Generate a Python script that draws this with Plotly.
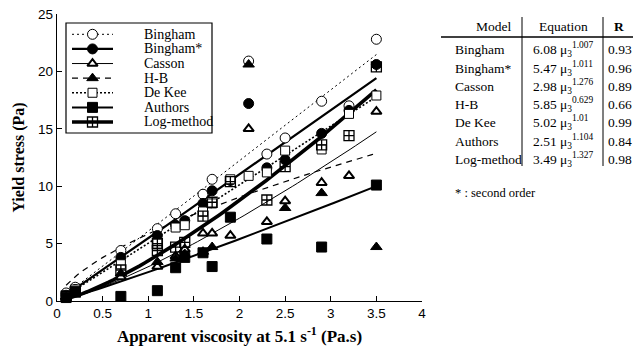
import numpy as np
import plotly.graph_objects as go

# ---------------- data ----------------
models = ["Bingham", "Bingham*", "Casson", "H-B", "De Kee", "Authors", "Log-method"]
eq_coef = ["6.08", "5.47", "2.98", "5.85", "5.02", "2.51", "3.49"]
eq_exp = ["1.007", "1.011", "1.276", "0.629", "1.01", "1.104", "1.327"]
r_values = ["0.93", "0.96", "0.89", "0.66", "0.99", "0.84", "0.98"]

x_bingham = [0.1, 0.2, 0.7, 1.1, 1.3, 1.6, 1.7, 2.1, 2.3, 2.5, 2.9, 3.2, 3.5]
y_bingham = [0.7, 1.2, 4.4, 6.3, 7.6, 9.3, 10.6, 20.9, 12.8, 14.2, 17.4, 17.0, 22.8]

x_bingham2 = [0.1, 0.2, 0.7, 1.1, 1.3, 1.4, 1.6, 1.7, 1.9, 2.1, 2.3, 2.5, 2.9, 3.2, 3.5]
y_bingham2 = [0.5, 1.0, 3.8, 5.7, 6.6, 7.0, 8.5, 9.6, 10.5, 17.2, 11.6, 12.3, 14.6, 16.6, 20.6]

x_casson = [0.1, 0.2, 0.7, 1.1, 1.3, 1.4, 1.6, 1.7, 1.9, 2.1, 2.3, 2.5, 2.9, 3.2, 3.5]
y_casson = [0.3, 0.6, 2.1, 3.0, 3.9, 4.5, 5.9, 5.9, 5.7, 15.0, 6.9, 8.7, 10.3, 10.9, 16.5]

x_hb = [0.1, 0.2, 0.7, 1.1, 1.3, 1.4, 1.6, 1.7, 2.1, 2.5, 2.9, 3.5]
y_hb = [0.4, 0.9, 2.4, 3.4, 3.7, 4.1, 4.3, 4.7, 20.6, 8.1, 9.4, 4.7]

x_dekee = [0.1, 0.2, 0.7, 1.1, 1.3, 1.4, 1.6, 1.7, 1.9, 2.1, 2.3, 2.5, 2.9, 3.2, 3.5]
y_dekee = [0.5, 1.0, 3.2, 5.0, 6.4, 6.6, 7.8, 8.5, 10.6, 10.9, 11.2, 13.1, 13.2, 16.3, 17.9]

x_authors = [0.1, 0.2, 0.7, 1.1, 1.3, 1.4, 1.6, 1.7, 1.9, 2.3, 2.9, 3.5]
y_authors = [0.3, 0.8, 0.4, 0.9, 2.9, 3.8, 4.2, 3.0, 7.3, 5.4, 4.7, 10.1]

x_log = [0.1, 0.2, 0.7, 1.1, 1.1, 1.3, 1.4, 1.6, 1.7, 1.9, 2.3, 2.5, 2.9, 3.2, 3.5]
y_log = [0.4, 0.8, 2.7, 4.4, 5.0, 4.7, 5.1, 7.4, 8.6, 10.4, 8.8, 11.7, 13.6, 14.4, 20.4]

fit_range = [0.1, 3.5]
x_ticks = [0, 0.5, 1, 1.5, 2, 2.5, 3, 3.5, 4]
y_ticks = [0, 5, 10, 15, 20, 25]

# ---------------- styles ----------------
SERIF = "Liberation Serif, Times New Roman, serif"
SANS = "Liberation Sans, Arial, sans-serif"
data_sets = [
    (x_bingham, y_bingham), (x_bingham2, y_bingham2), (x_casson, y_casson),
    (x_hb, y_hb), (x_dekee, y_dekee), (x_authors, y_authors), (x_log, y_log),
]
line_styles = [
    dict(color="black", width=1.0, dash="2px,3px"),
    dict(color="black", width=2.2),
    dict(color="black", width=1.0),
    dict(color="black", width=1.2, dash="6px,5px"),
    dict(color="black", width=1.6, dash="2px,2px"),
    dict(color="black", width=2.0),
    dict(color="black", width=3.6),
]
marker_styles = [
    dict(symbol="circle", size=10, color="white", line=dict(color="black", width=1)),
    dict(symbol="circle", size=10, color="black", line=dict(color="black", width=1)),
    dict(symbol="triangle-up", size=9, color="white", line=dict(color="black", width=2)),
    dict(symbol="triangle-up", size=10, color="black", line=dict(color="black", width=1)),
    dict(symbol="square", size=9, color="white", line=dict(color="black", width=1)),
    dict(symbol="square", size=10, color="black", line=dict(color="black", width=1)),
    dict(symbol="square-cross-open", size=10, color="black", line=dict(color="black", width=1.3)),
]

W, H = 638, 350
ML, MR, MT, MB = 57, 216, 14, 49
PW, PH = W - ML - MR, H - MT - MB


def px(x):
    return (x - ML) / PW


def py(y):
    return (H - MB - y) / PH


fig = go.Figure()

# fit lines from the table equations
xf = np.linspace(fit_range[0], fit_range[1], 60)
for i, m in enumerate(models):
    a, b = float(eq_coef[i]), float(eq_exp[i])
    fig.add_trace(go.Scatter(x=xf, y=a * xf ** b, mode="lines", line=line_styles[i],
                             showlegend=False, hoverinfo="skip"))

# data points
for i, m in enumerate(models):
    xs, ys = data_sets[i]
    fig.add_trace(go.Scatter(x=xs, y=ys, mode="markers", marker=marker_styles[i],
                             name=m, showlegend=False, cliponaxis=False))

# custom legend on its own small axes
rows = list(range(1, len(models) + 1))
for i, m in enumerate(models):
    fig.add_trace(go.Scatter(x=[0, 1], y=[rows[i], rows[i]], mode="lines", line=line_styles[i],
                             xaxis="x2", yaxis="y2", showlegend=False, hoverinfo="skip"))
    fig.add_trace(go.Scatter(x=[0.5], y=[rows[i]], mode="markers", marker=marker_styles[i],
                             xaxis="x2", yaxis="y2", showlegend=False, hoverinfo="skip",
                             cliponaxis=False))

annotations = []
for i, m in enumerate(models):
    annotations.append(dict(x=px(142), y=rows[i], xref="paper", yref="y2", text=m,
                            showarrow=False, xanchor="left", yanchor="middle",
                            font=dict(family=SERIF, size=14, color="black")))

shapes = [
    dict(type="rect", xref="paper", yref="paper", x0=px(66), x1=px(212), y0=py(133), y1=py(23),
         line=dict(color="black", width=1.2), fillcolor="white", layer="below"),
]

# table
tfont = dict(family=SERIF, size=13.5, color="black")
annotations += [
    dict(x=px(493), y=py(27), text="Model", xref="paper", yref="paper", showarrow=False,
         xanchor="center", yanchor="middle", font=tfont),
    dict(x=px(563), y=py(27), text="Equation", xref="paper", yref="paper", showarrow=False,
         xanchor="center", yanchor="middle", font=tfont),
    dict(x=px(619), y=py(27), text="<b>R</b>", xref="paper", yref="paper", showarrow=False,
         xanchor="center", yanchor="middle", font=tfont),
]
for i, m in enumerate(models):
    yy = py(50 + i * 18.2)
    annotations.append(dict(x=px(453), y=yy, text=m, xref="paper", yref="paper", showarrow=False,
                            xanchor="left", yanchor="middle", font=tfont))
    annotations.append(dict(x=px(531), y=yy,
                            text=f"{eq_coef[i]} μ<sub>3</sub><sup>{eq_exp[i]}</sup>",
                            xref="paper", yref="paper", showarrow=False,
                            xanchor="left", yanchor="middle", font=tfont))
    annotations.append(dict(x=px(606), y=yy, text=r_values[i], xref="paper", yref="paper",
                            showarrow=False, xanchor="left", yanchor="middle", font=tfont))
annotations.append(dict(x=px(453), y=py(193), text="* : second order", xref="paper", yref="paper",
                        showarrow=False, xanchor="left", yanchor="middle",
                        font=dict(family=SERIF, size=12.5, color="black")))

shapes += [
    dict(type="line", xref="paper", yref="paper", x0=px(441), x1=px(633), y0=py(37), y1=py(37),
         line=dict(color="black", width=1.5)),
    dict(type="line", xref="paper", yref="paper", x0=px(522), x1=px(522), y0=py(17), y1=py(166),
         line=dict(color="black", width=1)),
    dict(type="line", xref="paper", yref="paper", x0=px(603), x1=px(603), y0=py(17), y1=py(166),
         line=dict(color="black", width=1)),
]

fig.update_layout(
    width=W, height=H,
    margin=dict(l=ML, r=MR, t=MT, b=MB, autoexpand=False),
    paper_bgcolor="white", plot_bgcolor="white",
    showlegend=False,
    xaxis=dict(range=[0, 4], tickvals=x_ticks, ticks="inside", ticklen=5, tickwidth=1.2,
               tickcolor="black", showline=True, linecolor="black", linewidth=1.4,
               showgrid=False, zeroline=False, automargin=False,
               tickfont=dict(family=SANS, size=13.5, color="black"),
               title=dict(text="<b>Apparent viscosity at 5.1 s<sup>-1</sup> (Pa.s)</b>",
                          font=dict(family=SERIF, size=17, color="black"), standoff=9)),
    yaxis=dict(range=[0, 25], tickvals=y_ticks, ticks="inside", ticklen=5, tickwidth=1.2,
               tickcolor="black", showline=True, linecolor="black", linewidth=1.4,
               showgrid=False, zeroline=False, automargin=False,
               tickfont=dict(family=SANS, size=13.5, color="black"),
               title=dict(text="<b>Yield stress (Pa)</b>",
                          font=dict(family=SERIF, size=16, color="black"), standoff=9)),
    xaxis2=dict(domain=[px(72), px(113)], range=[0, 1], visible=False, fixedrange=True,
                anchor="y2"),
    yaxis2=dict(domain=[py(129.3), py(27)], range=[7.5, 0.5], visible=False, fixedrange=True,
                anchor="x2"),
    annotations=annotations,
    shapes=shapes,
)

fig.write_html("out.html")
